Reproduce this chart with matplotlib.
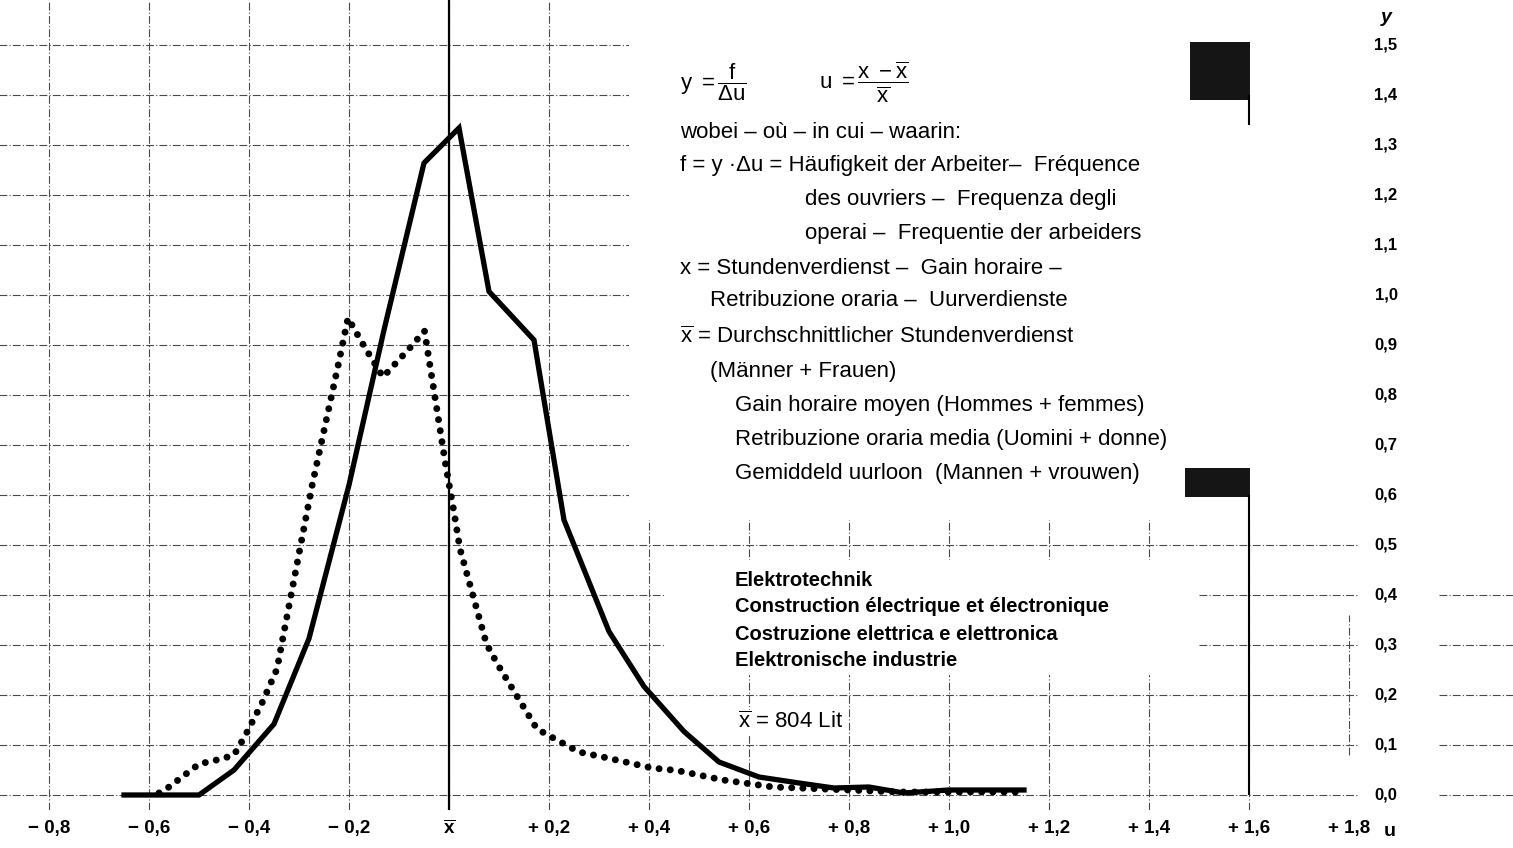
import matplotlib
matplotlib.use('Agg')
import matplotlib.pyplot as plt
from matplotlib.patches import Rectangle

plt.rcParams['font.family'] = ['Liberation Sans', 'DejaVu Sans']
plt.rcParams['mathtext.fontset'] = 'custom'
plt.rcParams['mathtext.rm'] = 'Liberation Sans'
plt.rcParams['mathtext.it'] = 'Liberation Sans'
plt.rcParams['mathtext.bf'] = 'Liberation Sans:bold'

# ---------- DATA ----------
# solid curve (u, y)
solid_u = [-0.65, -0.50, -0.43, -0.35, -0.28, -0.20, -0.13, -0.05, 0.02, 0.08,
           0.17, 0.23, 0.32, 0.39, 0.47, 0.54, 0.62, 0.70, 0.77, 0.84, 0.91, 1.00, 1.15]
solid_y = [0.0, 0.0, 0.05, 0.142, 0.313, 0.62, 0.93, 1.264, 1.334, 1.007,
           0.91, 0.55, 0.327, 0.217, 0.127, 0.066, 0.036, 0.024, 0.014, 0.016, 0.004, 0.01, 0.01]

# dotted curve (u, y)
dot_u = [-0.58, -0.56, -0.50, -0.456, -0.43, -0.408, -0.374, -0.344, -0.33, -0.274,
         -0.222, -0.202, -0.17, -0.132, -0.082, -0.049, -0.03, -0.007, 0.01, 0.022,
         0.075, 0.098, 0.176, 0.216, 0.26, 0.308, 0.406, 0.456, 0.548, 0.648,
         0.80, 0.90, 1.14]
dot_y = [0.004, 0.016, 0.062, 0.072, 0.08, 0.118, 0.184, 0.252, 0.326, 0.618,
         0.858, 0.954, 0.898, 0.836, 0.89, 0.928, 0.808, 0.662, 0.566, 0.492,
         0.302, 0.26, 0.132, 0.11, 0.086, 0.076, 0.054, 0.049, 0.03, 0.016,
         0.01, 0.006, 0.006]

u_ticks = [-0.8, -0.6, -0.4, -0.2, 0.0, 0.2, 0.4, 0.6, 0.8, 1.0, 1.2, 1.4, 1.6, 1.8]
u_labels = ['\u2212 0,8', '\u2212 0,6', '\u2212 0,4', '\u2212 0,2', r'$\overline{\mathbf{x}}$',
            '+ 0,2', '+ 0,4', '+ 0,6', '+ 0,8', '+ 1,0', '+ 1,2', '+ 1,4', '+ 1,6', '+ 1,8']
y_ticks = [0.0, 0.1, 0.2, 0.3, 0.4, 0.5, 0.6, 0.7, 0.8, 0.9, 1.0, 1.1, 1.2, 1.3, 1.4, 1.5]
y_labels = ['0,0', '0,1', '0,2', '0,3', '0,4', '0,5', '0,6', '0,7', '0,8', '0,9',
            '1,0', '1,1', '1,2', '1,3', '1,4', '1,5']

legend_lines = [
    ('wobei \u2013 o\u00f9 \u2013 in cui \u2013 waarin:', 0.462, 1.324),
    ('f = y \u00b7\u0394u = H\u00e4ufigkeit der Arbeiter\u2013  Fr\u00e9quence', 0.462, 1.258),
    ('des ouvriers \u2013  Frequenza degli', 0.712, 1.190),
    ('operai \u2013  Frequentie der arbeiders', 0.712, 1.124),
    ('x = Stundenverdienst \u2013  Gain horaire \u2013', 0.462, 1.054),
    ('Retribuzione oraria \u2013  Uurverdienste', 0.522, 0.988),
    (r'$\overline{\mathrm{x}}$ = Durchschnittlicher Stundenverdienst', 0.462, 0.916),
    ('(M\u00e4nner + Frauen)', 0.522, 0.848),
    ('Gain horaire moyen (Hommes + femmes)', 0.572, 0.778),
    ('Retribuzione oraria media (Uomini + donne)', 0.572, 0.710),
    ('Gemiddeld uurloon  (Mannen + vrouwen)', 0.572, 0.642),
]
branch_lines = ['Elektrotechnik',
                'Construction \u00e9lectrique et \u00e9lectronique',
                'Costruzione elettrica e elettronica',
                'Elektronische industrie']

# ---------- FIGURE ----------
fig = plt.figure(figsize=(15.13, 8.48), dpi=100)
ax = fig.add_axes([0, 38 / 848, 1, 810 / 848])
ax.set_xlim(-0.898, 2.128)
ax.set_ylim(-0.03, 1.59)
for s in ax.spines.values():
    s.set_visible(False)
ax.set_yticks([])
ax.set_xticks(u_ticks, u_labels)
ax.tick_params(axis='x', length=0, pad=7, labelsize=13.5)
for lab in ax.get_xticklabels():
    lab.set_fontweight('bold')

# ---------- GRID ----------
grid_kw = dict(color='#4a4a4a', lw=0.8, ls=(0, (7, 2, 1, 2)), zorder=1)
for yv in y_ticks:
    ax.hlines(yv, -0.9, 1.82, **grid_kw)
    if yv <= 0.4:
        ax.hlines(yv, 1.98, 2.13, **grid_kw)
for uv in u_ticks[:-1]:
    ax.vlines(uv, -0.03, 1.59, **grid_kw)
ax.vlines(1.8, 0.08, 0.36, **grid_kw)

# blank areas behind the text blocks
ax.add_patch(Rectangle((0.36, 0.55), 1.9, 1.1, fc='white', ec='none', zorder=1.5))
ax.add_patch(Rectangle((0.43, 0.24), 1.07, 0.23, fc='white', ec='none', zorder=1.5))

# mean line
ax.vlines(0.0, -0.03, 1.59, color='black', lw=1.6, zorder=2)

# print marks
ax.add_patch(Rectangle((1.482, 1.39), 0.12, 0.116, fc='#151515', ec='none', zorder=2))
ax.add_patch(Rectangle((1.472, 0.596), 0.13, 0.058, fc='#151515', ec='none', zorder=2))
ax.vlines(1.6, 0.0, 0.6, color='black', lw=1.5, zorder=2)
ax.vlines(1.6, 1.34, 1.4, color='black', lw=1.5, zorder=2)

# ---------- CURVES ----------
ax.plot(solid_u, solid_y, color='black', lw=3.8, solid_joinstyle='miter', zorder=3)
ax.plot(dot_u, dot_y, color='black', lw=5, ls=(0, (0.01, 1.6)),
        dash_capstyle='round', zorder=3)

# ---------- TEXT ----------
for yv, lab in zip(y_ticks, y_labels):
    ax.text(1.874, yv, lab, ha='center', va='center', fontsize=12, fontweight='bold',
            bbox=dict(fc='white', ec='none', pad=2), zorder=4)
ax.text(1.874, 1.554, 'y', ha='center', va='center', fontsize=14, fontweight='bold',
        style='italic', zorder=4)
ax.text(1.882, -0.074, 'u', ha='center', va='center', fontsize=14, fontweight='bold',
        zorder=4)

ax.text(0.462, 1.426, r'$\mathrm{y}\ =\dfrac{\mathrm{f}}{\Delta\mathrm{u}}$',
        ha='left', va='center', fontsize=16, zorder=4)
ax.text(0.74, 1.426,
        r'$\mathrm{u}\ =\dfrac{\mathrm{x}\ -\overline{\mathrm{x}}}{\overline{\mathrm{x}}}$',
        ha='left', va='center', fontsize=16, zorder=4)
for txt, ux, yy in legend_lines:
    ax.text(ux, yy, txt, ha='left', va='center', fontsize=16, zorder=4)

for i, txt in enumerate(branch_lines):
    ax.text(0.572, 0.43 - i * 0.054, txt, ha='left', va='center', fontsize=14.5,
            fontweight='bold', zorder=4)
ax.text(0.578, 0.146, r'$\overline{\mathrm{x}}$ = 804 Lit', ha='left', va='center',
        fontsize=16, bbox=dict(fc='white', ec='none', pad=1), zorder=4)

fig.savefig('out.png', dpi=100)
